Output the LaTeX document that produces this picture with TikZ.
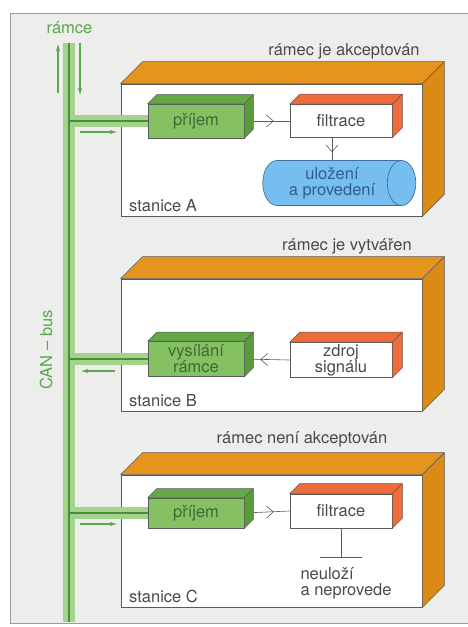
\documentclass[tikz,border=0pt]{standalone}
\usepackage{fontspec}
\setmainfont{TeX Gyre Heros}
\usepackage{tikz}
\usetikzlibrary{positioning,arrows.meta,shapes.geometric,decorations.markings}

\definecolor{bggray}{HTML}{EDEDEB}
\definecolor{framegray}{HTML}{9C9C9C}
\definecolor{edgegray}{HTML}{5A5A5A}
\definecolor{textgray}{HTML}{4A4A4A}
\definecolor{crateorange}{HTML}{E5951D}
\definecolor{crateside}{HTML}{DB8B15}
\definecolor{unitfront}{HTML}{85C063}
\definecolor{unittop}{HTML}{66A845}
\definecolor{unitside}{HTML}{579C39}
\definecolor{unittext}{HTML}{3C6A35}
\definecolor{blockred}{HTML}{EE6C3C}
\definecolor{pillblue}{HTML}{76BEF0}
\definecolor{pilledge}{HTML}{41709E}
\definecolor{pilltext}{HTML}{2F5E8C}
\definecolor{buslight}{HTML}{A3D48C}
\definecolor{busdark}{HTML}{4C8C3E}
\definecolor{busgreen}{HTML}{5BA84E}

% top and right face of a box node: node, depth, top colour, side colour
\newcommand{\depthfaces}[4]{%
  \filldraw[fill=#3,draw=edgegray,line width=0.5pt,line join=round]
    (#1.north west) -- ++(#2,-#2) -- ([shift={(#2,-#2)}]#1.north east) -- (#1.north east) -- cycle;
  \filldraw[fill=#4,draw=edgegray,line width=0.5pt,line join=round]
    (#1.north east) -- ++(#2,-#2) -- ([shift={(#2,-#2)}]#1.south east) -- (#1.south east) -- cycle;
}

\begin{document}
\begin{tikzpicture}[x=1pt,y=-1pt,
  every node/.style={font=\fontsize{16.5}{16}\selectfont,text=textgray},
  station/.style={draw=edgegray,fill=white,line width=0.7pt,minimum width=301pt,minimum height=132pt},
  unit/.style={draw=edgegray,fill=unitfront,line width=0.6pt,minimum width=96pt,inner sep=0pt,align=center,text=unittext},
  block/.style={draw=edgegray,fill=white,line width=0.6pt,minimum width=102pt,inner sep=0pt,align=center},
  store/.style={cylinder,shape aspect=0.9,draw=pilledge,fill=pillblue,line width=0.7pt,
    minimum height=153pt,minimum width=45pt,inner sep=0pt,align=center,text=pilltext},
  headline/.style={anchor=base},
  midflow/.style={draw=edgegray,line width=0.6pt,postaction={decorate},
    decoration={markings,mark=at position #1 with {\arrow{Straight Barb[length=7pt,width=12pt]}}}},
  midflow/.default=0.65,
  busline/.style={buslight,line width=12pt},
  buscore/.style={busdark,line width=1.4pt},
  busarrow/.style={busgreen,line width=1.1pt,-{Latex[length=8pt,width=4pt]}}]

	\useasboundingbox (0,0) rectangle (468,627);
	\fill[bggray] (10,13) rectangle (468,623);
	\draw[framegray,line width=0.8pt] (468,13) -- (10,13) -- (10,623) -- (468,623);

	%station A
	\node[station] (stA) at (271.5,150) {};
	\node[headline] at (344,55) {rámec je akceptován};
	\node[unit,minimum height=34pt] (pA) at (196,121) {příjem};
	\node[block,minimum height=33pt] (fA) at (341,121) {filtrace};
	\node[store] (uA) at (332,183) {uložení\\a provedení};
	\node[above right=1pt and 5pt of stA.south west] {stanice A};

	%station B
	\node[station] (stB) at (271.5,345) {};
	\node[headline] at (347,250) {rámec je vytvářen};
	\node[unit,minimum height=35pt] (vB) at (196,359) {vysílání\\rámce};
	\node[block,minimum height=35pt] (zB) at (341,360) {zdroj\\signálu};
	\node[above right=1pt and 5pt of stB.south west] {stanice B};

	%station C
	\node[station] (stC) at (271.5,541) {};
	\node[headline] at (302,443) {rámec není akceptován};
	\node[unit,minimum height=30pt] (pC) at (196,513) {příjem};
	\node[block,minimum height=34pt] (fC) at (341,511) {filtrace};
	\coordinate (stopC) at (341,557);
	\node[anchor=north west,align=left] (noC) at (297,564) {neuloží\\a neprovede};
	\node[above right=1pt and 5pt of stC.south west] {stanice C};

	%bus
	\coordinate (busT) at (69,43);
	\coordinate (busB) at (69,622);
	\draw[busline] (busT) -- (busB);
	\foreach \u in {pA,vB,pC}
		\draw[busline] (busT |- \u.west) -- (\u.west);
	\draw[buscore] (busT) -- (busB);
	\foreach \u in {pA,vB,pC}
		\draw[buscore] (busT |- \u.west) -- (\u.west);
	\node[headline,text=busgreen] (frames) at (69.5,33) {rámce};
	\node[text=busgreen,rotate=90] (canbus) at (46,350) {CAN – bus};

	%bus arrows
	\coordinate (up1) at (58,93);   \coordinate (up2) at (58,43);
	\coordinate (dn1) at (80,43);   \coordinate (dn2) at (80,96);
	\coordinate (inA1) at (80,132); \coordinate (inA2) at (118,132);
	\coordinate (outB1) at (115,371); \coordinate (outB2) at (80,371);
	\coordinate (inC1) at (80,524); \coordinate (inC2) at (118,524);
	\draw[busarrow] (up1) -- (up2);
	\draw[busarrow] (dn1) -- (dn2);
	\draw[busarrow] (inA1) -- (inA2);
	\draw[busarrow] (outB1) -- (outB2);
	\draw[busarrow] (inC1) -- (inC2);

	%edges
	\draw[midflow] (pA.east) -- (fA.west);
	\draw[midflow] (fA.south -| uA.north) -- (uA.north);
	\draw[midflow] (zB.west) -- (vB.east);
	\draw[midflow] (pC.east) -- (fC.west);
	\draw[draw=edgegray,line width=0.6pt] (fC.south) -- (stopC);
	\draw[draw=edgegray,line width=0.8pt] ([xshift=-21pt]stopC) -- ([xshift=21pt]stopC);

	%depth faces
	\depthfaces{stA}{22}{crateorange}{crateside}
	\depthfaces{stB}{22}{crateorange}{crateside}
	\depthfaces{stC}{22}{crateorange}{crateside}
	\depthfaces{pA}{9}{unittop}{unitside}
	\depthfaces{vB}{9}{unittop}{unitside}
	\depthfaces{pC}{9}{unittop}{unitside}
	\depthfaces{fA}{10}{blockred}{blockred}
	\depthfaces{zB}{10}{blockred}{blockred}
	\depthfaces{fC}{10}{blockred}{blockred}

\end{tikzpicture}
\end{document}
